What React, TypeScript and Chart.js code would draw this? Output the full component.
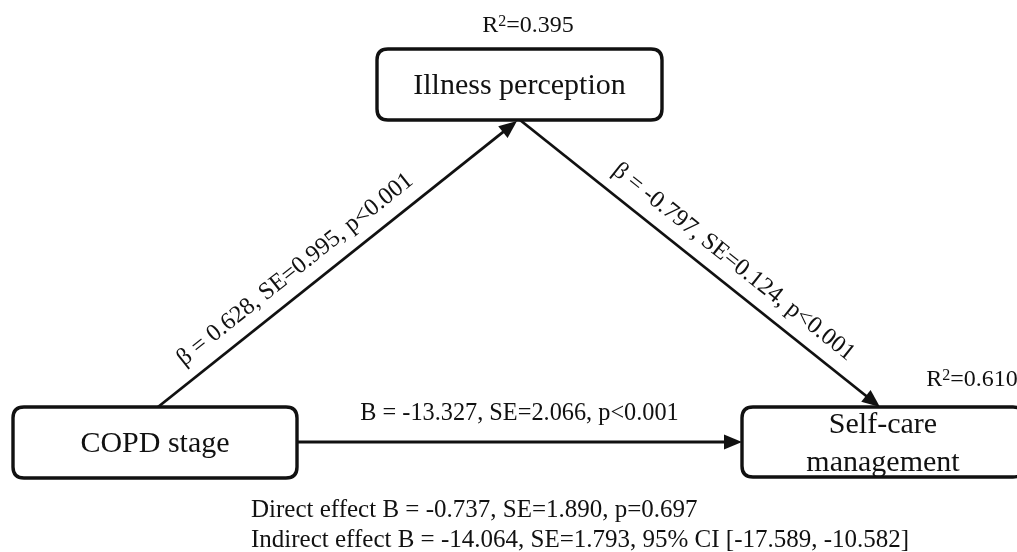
import React, { useEffect, useRef } from "react";
import { Chart, registerables } from "chart.js";

Chart.register(...registerables);

// ---- Data (path model) ----
const nodeNames = ["COPD stage", "Illness perception", "Self-care management"];
const nodeLines = [["COPD stage"], ["Illness perception"], ["Self-care", "management"]];
const rSquared = [null, "0.395", "0.610"];

const pathFrom = [0, 1, 0];
const pathTo = [1, 2, 2];
const pathLabels = [
  "β = 0.628, SE=0.995, p<0.001",
  "β = -0.797, SE=0.124, p<0.001",
  "B = -13.327, SE=2.066, p<0.001",
];
const effectLines = [
  "Direct effect B = -0.737, SE=1.890, p=0.697",
  "Indirect effect B = -14.064, SE=1.793, 95% CI [-17.589, -10.582]",
];

// ---- Layout (diagram coordinates, rendered via chart scales) ----
const nodeCx = [155, 519.5, 883];
const nodeCy = [442.5, 84.5, 442];
const nodeW = [284, 285, 282];
const nodeH = [71, 71, 70];
// anchor points where each path leaves / arrives
const pathStartX = [158, 520, 297];
const pathStartY = [407, 120, 442];
const pathEndX = [517, 880, 742];
const pathEndY = [121, 407, 442];
const pathLabelT = [0.42, 0.555, 0.5];
const pathLabelOff = [22, 22, 28];
const rLabelX = [0, 528, 972];
const rLabelY = [0, 24, 378];
const effectX = 251;
const effectY = [510, 540];

const SERIF = "'Liberation Serif', 'Times New Roman', serif";

function roundRect(ctx: CanvasRenderingContext2D, x: number, y: number, w: number, h: number, r: number) {
  ctx.beginPath();
  ctx.moveTo(x + r, y);
  ctx.lineTo(x + w - r, y);
  ctx.quadraticCurveTo(x + w, y, x + w, y + r);
  ctx.lineTo(x + w, y + h - r);
  ctx.quadraticCurveTo(x + w, y + h, x + w - r, y + h);
  ctx.lineTo(x + r, y + h);
  ctx.quadraticCurveTo(x, y + h, x, y + h - r);
  ctx.lineTo(x, y + r);
  ctx.quadraticCurveTo(x, y, x + r, y);
  ctx.closePath();
}

const diagramPlugin = {
  id: "diagram",
  afterDraw(chart: any) {
    const ctx: CanvasRenderingContext2D = chart.ctx;
    const xs = chart.scales.x;
    const ys = chart.scales.y;
    const px = (v: number) => xs.getPixelForValue(v);
    const py = (v: number) => ys.getPixelForValue(v);
    ctx.save();
    ctx.fillStyle = "#111";
    ctx.strokeStyle = "#111";

    // nodes
    for (let i = 0; i < nodeNames.length; i++) {
      const x0 = px(nodeCx[i] - nodeW[i] / 2);
      const x1 = px(nodeCx[i] + nodeW[i] / 2);
      const y0 = py(nodeCy[i] - nodeH[i] / 2);
      const y1 = py(nodeCy[i] + nodeH[i] / 2);
      ctx.lineWidth = 3.4;
      roundRect(ctx, x0, y0, x1 - x0, y1 - y0, 11);
      ctx.stroke();
      ctx.font = `30px ${SERIF}`;
      ctx.textAlign = "center";
      ctx.textBaseline = "middle";
      const lines = nodeLines[i];
      const lh = 38;
      const cy = py(nodeCy[i]);
      lines.forEach((t, k) => {
        ctx.fillText(t, px(nodeCx[i]), cy + (k - (lines.length - 1) / 2) * lh + 2);
      });
      const r = rSquared[i];
      if (r) {
        const lx = px(rLabelX[i]);
        const ly = py(rLabelY[i]);
        ctx.font = `24px ${SERIF}`;
        const wR = ctx.measureText("R").width;
        ctx.font = `16px ${SERIF}`;
        const w2 = ctx.measureText("2").width;
        ctx.font = `24px ${SERIF}`;
        const wRest = ctx.measureText("=" + r).width;
        const total = wR + w2 + wRest;
        let sx = lx - total / 2;
        ctx.textAlign = "left";
        ctx.textBaseline = "alphabetic";
        const base = ly + 8;
        ctx.fillText("R", sx, base);
        sx += wR;
        ctx.font = `16px ${SERIF}`;
        ctx.fillText("2", sx, base - 6);
        sx += w2;
        ctx.font = `24px ${SERIF}`;
        ctx.fillText("=" + r, sx, base);
      }
    }

    // paths
    for (let i = 0; i < pathFrom.length; i++) {
      const sx = px(pathStartX[i]);
      const sy = py(pathStartY[i]);
      const ex = px(pathEndX[i]);
      const ey = py(pathEndY[i]);
      const ang = Math.atan2(ey - sy, ex - sx);
      const headL = 18;
      const headW = 7.5;
      ctx.lineWidth = 2.8;
      ctx.beginPath();
      ctx.moveTo(sx, sy);
      ctx.lineTo(ex - Math.cos(ang) * (headL - 2), ey - Math.sin(ang) * (headL - 2));
      ctx.stroke();
      ctx.beginPath();
      ctx.moveTo(ex, ey);
      ctx.lineTo(
        ex - Math.cos(ang) * headL - Math.sin(ang) * headW,
        ey - Math.sin(ang) * headL + Math.cos(ang) * headW
      );
      ctx.lineTo(
        ex - Math.cos(ang) * headL + Math.sin(ang) * headW,
        ey - Math.sin(ang) * headL - Math.cos(ang) * headW
      );
      ctx.closePath();
      ctx.fill();

      // label
      const t = pathLabelT[i];
      const mx = sx + (ex - sx) * t;
      const my = sy + (ey - sy) * t;
      let rot = ang;
      if (rot > Math.PI / 2) rot -= Math.PI;
      if (rot < -Math.PI / 2) rot += Math.PI;
      const nx = Math.sin(rot);
      const ny = -Math.cos(rot);
      const off = pathLabelOff[i];
      ctx.save();
      ctx.translate(mx + nx * off, my + ny * off);
      ctx.rotate(rot);
      ctx.font = `24.3px ${SERIF}`;
      ctx.textAlign = "center";
      ctx.textBaseline = "middle";
      ctx.fillText(pathLabels[i], 0, 0);
      ctx.restore();
    }

    // effects
    ctx.font = `25px ${SERIF}`;
    ctx.textAlign = "left";
    ctx.textBaseline = "middle";
    effectLines.forEach((t, k) => {
      ctx.fillText(t, px(effectX), py(effectY[k]));
    });
    ctx.restore();
  },
};

export default function App() {
  const ref = useRef<HTMLCanvasElement | null>(null);
  useEffect(() => {
    document.body.style.margin = "0";
    const canvas = ref.current!;
    const chart = new Chart(canvas, {
      type: "scatter",
      data: {
        datasets: [
          {
            label: "nodes",
            data: nodeCx.map((x, i) => ({ x, y: nodeCy[i] })),
            pointRadius: 0,
          },
        ],
      },
      options: {
        animation: false,
        responsive: false,
        layout: { padding: 0 },
        plugins: { legend: { display: false }, tooltip: { enabled: false } },
        scales: {
          x: { type: "linear", min: 0, max: 1017, display: false },
          y: { type: "linear", min: 0, max: 552, reverse: true, display: false },
        },
      },
      plugins: [
        {
          id: "bg",
          beforeDraw(c: any) {
            const g = c.ctx;
            g.save();
            g.fillStyle = "#fff";
            g.fillRect(0, 0, c.width, c.height);
            g.restore();
          },
        },
        diagramPlugin,
      ],
    });
    return () => chart.destroy();
  }, []);
  return (
    <div style={{ position: "fixed", left: 0, top: 0, width: 1017, height: 552, background: "#fff" }}>
      <canvas ref={ref} width={1017} height={552} style={{ display: "block", width: 1017, height: 552 }} />
    </div>
  );
}
